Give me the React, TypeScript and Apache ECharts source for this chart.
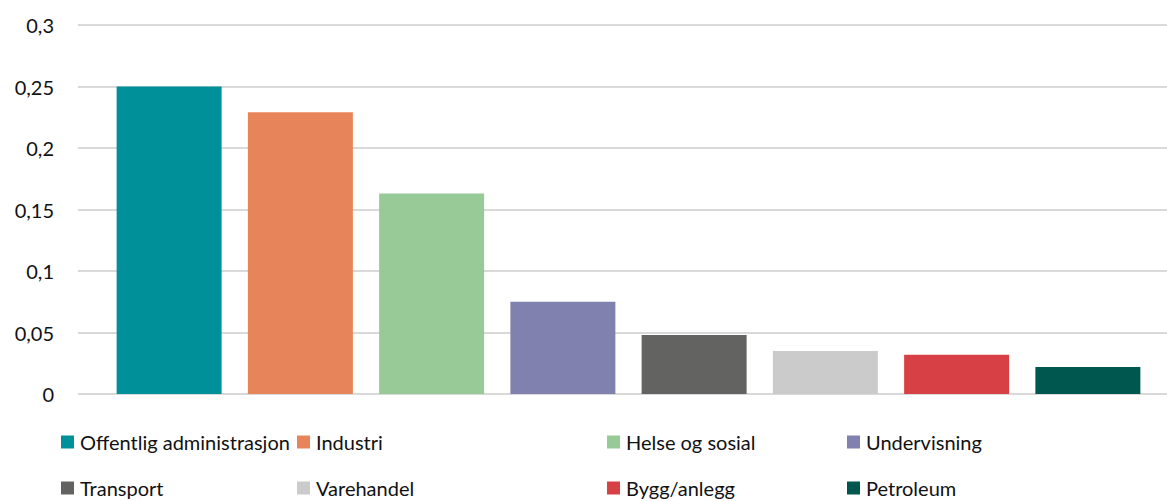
import React, { useEffect, useRef } from "react";
import * as echarts from "echarts";

const seriesNames = [
  "Offentlig administrasjon",
  "Industri",
  "Helse og sosial",
  "Undervisning",
  "Transport",
  "Varehandel",
  "Bygg/anlegg",
  "Petroleum",
];
const seriesValues = [0.25, 0.229, 0.163, 0.075, 0.048, 0.035, 0.032, 0.022];
const seriesColors = [
  "#00909A",
  "#E8845A",
  "#97CA97",
  "#8181AF",
  "#636361",
  "#CBCBCB",
  "#D74145",
  "#005750",
];
const legendLeft = [61, 297, 607, 847, 61, 297, 607, 847];
const legendTop = [432, 432, 432, 432, 478, 478, 478, 478];

const FONT = "Lato, 'Open Sans', sans-serif";

export default function App() {
  const ref = useRef<HTMLDivElement>(null);
  useEffect(() => {
    document.body.style.margin = "0";
    const chart = echarts.init(ref.current!, null, { renderer: "svg" });
    chart.setOption({
      animation: false,
      textStyle: { fontFamily: FONT },
      grid: [
        { left: 78, right: 0, top: 25, bottom: 107, containLabel: false },
        { left: 90, right: 0, top: 25, bottom: 107, containLabel: false },
      ],
      xAxis: [0, 1].map((g) => ({
        type: "category",
        gridIndex: g,
        data: [""],
        axisLine: { show: false },
        axisTick: { show: false },
        axisLabel: { show: false },
      })),
      yAxis: [
        {
          type: "value",
          gridIndex: 0,
          min: 0,
          max: 0.3,
          interval: 0.05,
          axisLine: { show: false },
          axisTick: { show: false },
          axisLabel: {
            margin: 24,
            color: "#111",
            fontSize: 20,
            fontFamily: FONT,
            formatter: (v: number) => String(Math.round(v * 100) / 100).replace(".", ","),
          },
          splitLine: { lineStyle: { color: "#D9D9D9", width: 2 } },
        },
        {
          type: "value",
          gridIndex: 1,
          min: 0,
          max: 0.3,
          interval: 0.05,
          axisLine: { show: false },
          axisTick: { show: false },
          axisLabel: { show: false },
          splitLine: { show: false },
        },
      ],
      legend: seriesNames.map((n, i) => ({
        data: [n],
        left: legendLeft[i],
        top: legendTop[i],
        icon: "rect",
        itemWidth: 13,
        itemHeight: 13,
        textStyle: { fontSize: 20, color: "#111", fontFamily: FONT, padding: [0, 0, 0, 1] },
        padding: 0,
        selectedMode: false,
      })),
      series: seriesNames.map((n, i) => ({
        type: "bar",
        name: n,
        xAxisIndex: 1,
        yAxisIndex: 1,
        data: [seriesValues[i]],
        barWidth: 105,
        barGap: "25%",
        itemStyle: { color: seriesColors[i] },
      })),
    });
    return () => chart.dispose();
  }, []);
  return <div ref={ref} style={{ width: 1167, height: 501 }} />;
}
